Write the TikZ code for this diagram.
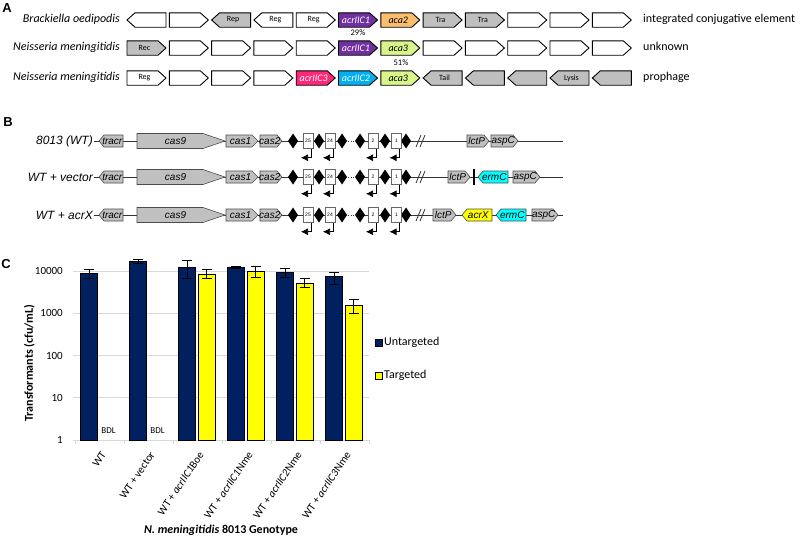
\documentclass[tikz,border=0pt]{standalone}
\usepackage{fontspec}
\setmainfont{Carlito}
\newfontfamily\arialfont{Liberation Sans}
\usetikzlibrary{arrows.meta}

\definecolor{greyA}{RGB}{191,191,191}
\definecolor{purpleA}{RGB}{112,48,160}
\definecolor{orangeA}{RGB}{250,190,110}
\definecolor{limeA}{RGB}{218,244,140}
\definecolor{pinkA}{RGB}{255,40,120}
\definecolor{blueA}{RGB}{0,176,240}
\definecolor{greyB}{RGB}{192,192,192}
\definecolor{cyanB}{RGB}{0,255,255}
\definecolor{yellowB}{RGB}{255,255,0}
\definecolor{navyC}{RGB}{0,32,96}
\definecolor{gridC}{RGB}{217,217,217}

\tikzset{
  geneA/.style={draw=black, line width=0.9pt},
  geneB/.style={draw=black!70, line width=0.6pt, fill=greyB},
  genetext/.style={inner sep=0pt, font=\fontsize{8}{8}\selectfont},
  panel/.style={font=\arialfont\bfseries\fontsize{13}{13}\selectfont},
  bigtext/.style={inner sep=1pt, text height=8pt, text depth=2.5pt, font=\fontsize{12}{12}\selectfont},
  rowlabel/.style={anchor=east, inner sep=1pt, font=\arialfont\itshape\fontsize{12}{12}\selectfont},
  backbone/.style={line width=0.8pt, black!80},
  spacer/.style={draw=black!60, fill=white, line width=0.5pt, minimum width=10pt, minimum height=15pt, inner sep=0pt, font=\arialfont\fontsize{5}{5}\selectfont},
  leader/.style={line width=0.7pt, -{Latex[length=7pt,width=7pt]}},
  grid/.style={draw=gridC, line width=0.7pt},
  navybar/.style={fill=navyC, draw=black, line width=0.5pt},
  yellowbar/.style={fill=yellowB, draw=black, line width=0.8pt},
  errbar/.style={line width=1pt, black},
  ticklab/.style={anchor=east, inner sep=1pt, font=\fontsize{11}{11}\selectfont},
  xlab/.style={anchor=east, rotate=56, inner sep=1pt, font=\fontsize{11}{11}\selectfont}
}

% #1 name, #2 left, #3 right, #4 y, #5 dir, #6 tip, #7 half height, #8 style, #9 text
\newcommand{\gene}[9]{%
  \pgfmathsetmacro\gtail{((#2+#3)-(#5)*(#3-#2))/2}%
  \pgfmathsetmacro\gtip{((#2+#3)+(#5)*(#3-#2))/2}%
  \pgfmathsetmacro\gknee{\gtip-(#5)*(#6)}%
  \pgfmathsetmacro\gmid{(\gtail+(\gknee+\gtip)/2)/2}%
  \draw[#8] (\gtail,#4-#7) -- (\gknee,#4-#7) -- (\gtip,#4) -- (\gknee,#4+#7) -- (\gtail,#4+#7) -- cycle;
  \node[genetext] (#1) at (\gmid,#4) {#9};}
\newcommand{\gname}[2]{\textcolor{#1}{\fontsize{10}{10}\selectfont\itshape #2}}

\begin{document}
\begin{tikzpicture}[x=1pt,y=-1pt]
  \useasboundingbox (0,0) rectangle (800,539);

  % panel A
  \node[panel] (A) at (7,8) {A};
  \node[bigtext, anchor=east] (spA1) at (121,20) {\itshape Brackiella oedipodis};
  \node[bigtext, anchor=east] (spA2) at (121,48) {\itshape Neisseria meningitidis};
  \node[bigtext, anchor=east] (spA3) at (121,78) {\itshape Neisseria meningitidis};

  \foreach \d/\f/\t [count=\i from 0] in {-1/white/{}, 1/white/{}, -1/greyA/Rep, -1/white/Reg, 1/white/Reg,
      1/purpleA/{\gname{white}{acrIIC1}}, 1/orangeA/{\gname{black}{aca2}}, 1/greyA/Tra, 1/greyA/Tra,
      1/white/{}, 1/white/{}, 1/white/{}}{
    \pgfmathsetmacro\xl{127+42.3*\i}
    \gene{a1-\i}{\xl}{\xl+39}{20}{\d}{8}{7.2}{geneA, fill=\f}{\t}
  }
  \foreach \d/\f/\t [count=\i from 0] in {1/greyA/Rec, 1/white/{}, 1/white/{}, 1/white/{}, 1/white/{},
      1/purpleA/{\gname{white}{acrIIC1}}, 1/limeA/{\gname{black}{aca3}},
      1/white/{}, 1/white/{}, 1/white/{}, 1/white/{}, 1/white/{}}{
    \pgfmathsetmacro\xl{127+42.3*\i}
    \gene{a2-\i}{\xl}{\xl+39}{48}{\d}{8}{7.2}{geneA, fill=\f}{\t}
  }
  \foreach \d/\f/\t [count=\i from 0] in {1/white/Reg, 1/white/{}, 1/white/{}, 1/white/{},
      1/pinkA/{\gname{white}{acrIIC3}}, 1/blueA/{\gname{white}{acrIIC2}}, 1/limeA/{\gname{black}{aca3}},
      -1/greyA/Tail, -1/greyA/{}, -1/greyA/{}, -1/greyA/Lysis, -1/greyA/{}}{
    \pgfmathsetmacro\xl{127+42.3*\i}
    \gene{a3-\i}{\xl}{\xl+39}{78}{\d}{8}{7.2}{geneA, fill=\f}{\t}
  }
  \node[genetext, font=\fontsize{8.5}{8.5}\selectfont] (pct1) at (358,33) {29\%};
  \node[genetext, font=\fontsize{8.5}{8.5}\selectfont] (pct2) at (401,63) {51\%};

  \node[bigtext, anchor=west] (tyA1) at (642,20) {integrated conjugative element};
  \node[bigtext, anchor=west] (tyA2) at (642,48) {unknown};
  \node[bigtext, anchor=west] (tyA3) at (642,78) {prophage};

  % panel B
  \node[panel] (B) at (8,122) {B};
  \begin{scope}[genetext/.style={inner sep=0pt, font=\arialfont\itshape\fontsize{10}{10}\selectfont}]
  \foreach \y/\lab/\r in {141/{8013 (WT)}/1, 177/{WT + vector}/2, 215/{WT + acrX}/3}{
    \node[rowlabel] (lab\r) at (94,\y) {\lab};
    \draw[backbone] (lab\r.east) -- (345,\y);
    \draw[backbone, dotted] (345,\y) -- (356,\y);
    \draw[backbone] (356,\y) -- (563,\y);
    \draw[backbone] (416,\y+6) -- (421,\y-6) (420,\y+6) -- (425,\y-6);
    \gene{tracr\r}{99}{123}{\y}{-1}{5}{6}{geneB}{tracr}
    \gene{casnine\r}{137}{225}{\y}{1}{22}{7.5}{geneB}{cas9}
    \gene{casone\r}{226}{258}{\y}{1}{6}{6}{geneB}{cas1}
    \gene{castwo\r}{260}{282}{\y}{1}{5}{6}{geneB}{cas2}
    \foreach \x in {293,319,342,360,385,406}
      \fill (\x,\y-7.5) -- (\x+5,\y) -- (\x,\y+7.5) -- (\x-5,\y) -- cycle;
    \foreach \x/\n in {308/25, 330/24, 373/2, 396.5/1}{
      \node[spacer] (sp\r-\n) at (\x,\y) {\n};
      \draw[leader] ([xshift=3pt]sp\r-\n.south) |- ++(-10,9);
    }
  }
  \gene{lctP1}{467}{489}{141}{1}{5}{6}{geneB}{lctP}
  \gene{aspC1}{491}{518}{141}{1}{5}{6}{geneB}{aspC}
  \gene{lctP2}{448}{470}{177}{1}{5}{6}{geneB}{lctP}
  \draw[line width=2pt] (474,169) -- (474,185);
  \gene{ermC2}{478}{508}{177}{-1}{5}{6}{geneB, fill=cyanB}{ermC}
  \gene{aspC2}{513}{540}{177}{1}{5}{6}{geneB}{aspC}
  \gene{lctP3}{433}{456}{215}{1}{5}{6}{geneB}{lctP}
  \gene{acrX3}{462}{492}{215}{-1}{5}{6}{geneB, fill=yellowB}{acrX}
  \gene{ermC3}{496}{526}{215}{-1}{5}{6}{geneB, fill=cyanB}{ermC}
  \gene{aspC3}{532}{558}{215}{1}{5}{6}{geneB}{aspC}
  \end{scope}

  % panel C
  \node[panel] (C) at (6,264) {C};
  \begin{scope}[shift={(0,440)}, y=42.25pt]
    \foreach \e/\lab in {0/1, 1/10, 2/100, 3/1000, 4/10000}{
      \draw[grid] (73,\e) -- (369,\e);
      \node[ticklab] (yt\e) at (64,\e) {\lab};
    }
    \foreach \c in {0,...,6}
      \draw[grid] (75+49*\c,0) -- (75+49*\c,-0.1);
    % untargeted
    \foreach \c/\v/\hi/\lo in {0/3.953/4.024/3.834, 1/4.237/4.284/4.189, 2/4.095/4.237/3.811,
        3/4.095/4.118/4.071, 4/3.976/4.071/3.858, 5/3.882/3.976/3.692}{
      \pgfmathsetmacro\cx{75+49*\c}
      \draw[navybar] (\cx+5.5,0) rectangle (\cx+22.5,\v);
      \draw[errbar] (\cx+14,\lo) -- (\cx+14,\hi) (\cx+9,\lo) -- (\cx+19,\lo) (\cx+9,\hi) -- (\cx+19,\hi);
    }
    % targeted
    \foreach \c/\v/\hi/\lo in {2/3.929/4.047/3.811, 3/4.0/4.118/3.858, 4/3.716/3.811/3.621, 5/3.195/3.337/3.006}{
      \pgfmathsetmacro\cx{75+49*\c}
      \draw[yellowbar] (\cx+25,0) rectangle (\cx+42,\v);
      \draw[errbar] (\cx+33.5,\lo) -- (\cx+33.5,\hi) (\cx+28.5,\lo) -- (\cx+38.5,\lo) (\cx+28.5,\hi) -- (\cx+38.5,\hi);
    }
  \end{scope}
  \node[genetext, font=\fontsize{9}{9}\selectfont] (bdl1) at (108.5,431) {BDL};
  \node[genetext, font=\fontsize{9}{9}\selectfont] (bdl2) at (157.5,431) {BDL};
  \foreach \lab [count=\c from 0] in {WT, WT + vector, WT + \textit{acrIIC1}Boe, WT + \textit{acrIIC1}Nme,
      WT + \textit{acrIIC2}Nme, WT + \textit{acrIIC3}Nme}
    \node[xlab] (xl\c) at (75+49*\c+29,452) {\lab};
  \node[bigtext, rotate=90, font=\bfseries\fontsize{12}{12}\selectfont] (ytitle) at (30,363) {Transformants (cfu/mL)};
  \node[bigtext, font=\bfseries\fontsize{12}{12}\selectfont] (xtitle) at (221,531) {\textit{N. meningitidis} 8013 Genotype};

  % legend
  \draw[navybar] (375,339) rectangle (382,346);
  \node[bigtext, anchor=west] (legU) at (383,342.5) {Untargeted};
  \draw[yellowbar] (375,372) rectangle (382,379);
  \node[bigtext, anchor=west] (legT) at (383,375.5) {Targeted};
\end{tikzpicture}
\end{document}
